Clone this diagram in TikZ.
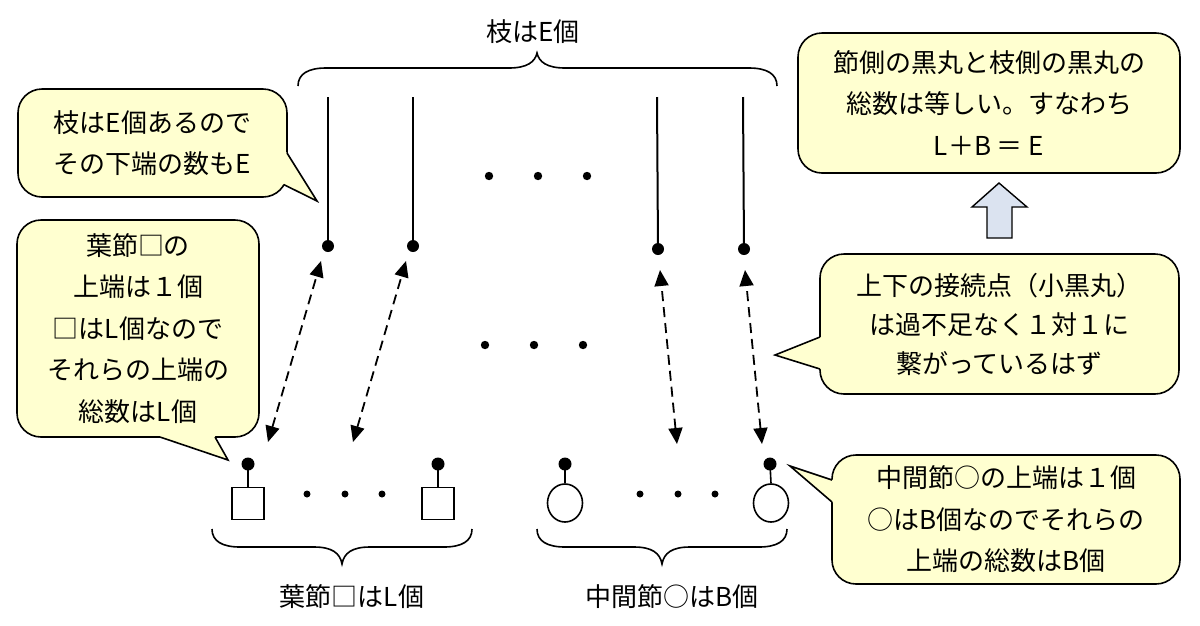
\documentclass[tikz,border=0pt]{standalone}
\usepackage{fontspec}
\setmainfont{Noto Sans CJK JP}
\usetikzlibrary{arrows.meta,shapes.geometric}
\definecolor{cfill}{RGB}{255,255,208}
\definecolor{afill}{RGB}{219,227,240}
\begin{document}
\begin{tikzpicture}[x=1pt,y=-1pt,
  txt/.style={font=\fontsize{26}{41.5}\selectfont, text=black},
  callbox/.style={draw=black, fill=cfill, line width=1.6pt, rounded corners=24pt, inner sep=0pt, align=center, txt},
  pedge/.style={draw=black, line width=1.6pt, line join=miter},
  bdot/.style={circle, fill=black, inner sep=0pt, minimum size=12pt},
  ndot/.style={circle, fill=black, inner sep=0pt, minimum size=13pt},
  branch/.style={line width=2pt},
  sqnode/.style={draw=black, line width=1.6pt, fill=white, minimum size=32pt, inner sep=0pt},
  cnode/.style={ellipse, draw=black, line width=1.6pt, fill=white, minimum width=35pt, minimum height=38pt, inner sep=0pt},
  stem/.style={line width=1.6pt},
  dasharr/.style={line width=1.8pt, dash pattern=on 10pt off 6pt, {Triangle[length=16pt,width=14pt]}-{Triangle[length=16pt,width=14pt]}},
  bracepath/.style={line width=1.6pt},
]
\useasboundingbox (0,0) rectangle (1200,625);
\fill[white] (0,0) rectangle (1200,625);

% ---------- top brace ----------
\draw[bracepath] (298,86) .. controls (298,74) and (308,68) .. (326,68) -- (509,68)
  .. controls (527,68) and (535,62) .. (537,53)
  .. controls (539,62) and (547,68) .. (565,68) -- (749,68)
  .. controls (767,68) and (777,74) .. (777,86);
\node[txt] (lblE) at (533,32) {枝はE個};

% ---------- branches ----------
\coordinate (b1) at (328,97);
\coordinate (b2) at (413,97);
\coordinate (b3) at (657,97);
\coordinate (b4) at (743,97);
\node[bdot] (t1) at (328,246) {};
\node[bdot] (t2) at (413,246) {};
\node[bdot] (t3) at (658,249) {};
\node[bdot] (t4) at (744,249) {};
\draw[branch] (b1) -- (t1.center);
\draw[branch] (b2) -- (t2.center);
\draw[branch] (b3) -- (t3.center);
\draw[branch] (b4) -- (t4.center);

% ellipsis dots
\fill (489,176) circle (4.2);
\fill (538,176) circle (4.2);
\fill (587,176) circle (4.2);
\fill (485,345) circle (4.2);
\fill (534,345) circle (4.2);
\fill (583,345) circle (4.2);

% ---------- bottom nodes ----------
\node[sqnode] (q1) at (248,503.5) {};
\node[sqnode] (q2) at (438,503.5) {};
\node[cnode] (o1) at (565,503) {};
\node[cnode] (o2) at (771,503) {};
\node[ndot] (q1d) at (248,464) {};
\node[ndot] (q2d) at (438,464) {};
\node[ndot] (o1d) at (565,464) {};
\node[ndot] (o2d) at (770,464) {};
\draw[stem] (q1d.center) -- (q1.north);
\draw[stem] (q2d.center) -- (q2.north);
\draw[stem] (o1d.center) -- (o1.north);
\draw[stem] (o2d.center) -- (o2.north);

\fill (307,494) circle (3.5);
\fill (345,494) circle (3.5);
\fill (382,494) circle (3.5);
\fill (640,494) circle (3.5);
\fill (678,494) circle (3.5);
\fill (715,494) circle (3.5);

% ---------- dashed double arrows ----------
\coordinate (at1) at (321,261); \coordinate (ab1) at (268,442);
\coordinate (at2) at (406,261); \coordinate (ab2) at (353,442);
\coordinate (at3) at (660,270); \coordinate (ab3) at (677,444);
\coordinate (at4) at (745,270); \coordinate (ab4) at (762,444);
\draw[dasharr] (ab1) -- (at1);
\draw[dasharr] (ab2) -- (at2);
\draw[dasharr] (ab3) -- (at3);
\draw[dasharr] (ab4) -- (at4);

% ---------- bottom braces ----------
\draw[bracepath] (212,529) .. controls (212,541) and (222,547) .. (240,547) -- (314,547)
  .. controls (332,547) and (340,553) .. (342,564)
  .. controls (344,553) and (352,547) .. (370,547) -- (444,547)
  .. controls (462,547) and (472,541) .. (472,529);
\draw[bracepath] (537,529) .. controls (537,541) and (547,547) .. (565,547) -- (634,547)
  .. controls (652,547) and (660,553) .. (662,564)
  .. controls (664,553) and (672,547) .. (690,547) -- (759,547)
  .. controls (777,547) and (787,541) .. (787,529);
\node[txt] (lblL) at (352,597) {葉節□はL個};
\node[txt] (lblB) at (672,597) {中間節○はB個};

% ---------- callout 1 ----------
\node[callbox, minimum width=269pt, minimum height=108pt] (c1) at (152.5,143) {枝はE個あるので\\その下端の数もE};
\fill[cfill] (287,153) -- (317,201) -- (283.6,184.5) -- (272,178) -- (284,150) -- cycle;
\draw[pedge] (287,153) -- (317,201) -- (283.6,184.5);

% ---------- callout 2 ----------
\node[callbox, minimum width=242pt, minimum height=217pt] (c2) at (138,328.5) {葉節□の\\上端は１個\\□はL個なので\\それらの上端の\\総数はL個};
\fill[cfill] (160,437) -- (228,460) -- (215,437) -- (215,434) -- (160,434) -- cycle;
\draw[pedge] (160,437) -- (228,460) -- (215,437);

% ---------- callout 3 ----------
\node[callbox, minimum width=382pt, minimum height=140pt] (c3) at (989,103) {節側の黒丸と枝側の黒丸の\\総数は等しい。すなわち\\L＋B ＝ E};
\filldraw[fill=afill, draw=black, line width=1.4pt, line join=miter]
  (999,183) -- (1027,207) -- (1012,207) -- (1012,238) -- (987,238) -- (987,207) -- (972,207) -- cycle;

% ---------- callout 4 ----------
\node[callbox, minimum width=359pt, minimum height=140pt, font=\fontsize{26}{39}\selectfont] (c4) at (999.5,324) {上下の接続点（小黒丸）\\は過不足なく１対１に\\繋がっているはず};
\fill[cfill] (820,337) -- (775,355) -- (820,369) -- (823,369) -- (823,337) -- cycle;
\draw[pedge] (820,337) -- (775,355) -- (820,369);

% ---------- callout 5 ----------
\node[callbox, minimum width=348pt, minimum height=129pt] (c5) at (1006,519.5) {中間節○の上端は１個\\○はB個なのでそれらの\\上端の総数はB個};
\fill[cfill] (832,480) -- (790,466) -- (832,502) -- (835,502) -- (835,478) -- cycle;
\draw[pedge] (832,480) -- (790,466) -- (832,502);
\end{tikzpicture}
\end{document}
